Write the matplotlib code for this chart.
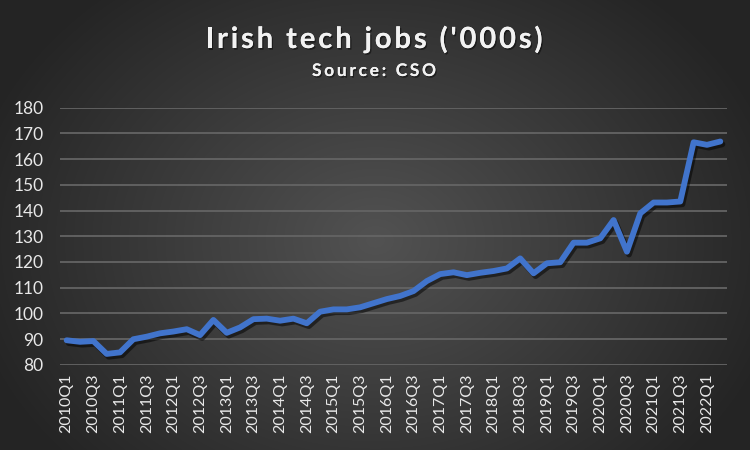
import numpy as np
import matplotlib
matplotlib.use("Agg")
import matplotlib.pyplot as plt
import matplotlib.patheffects as pe

quarters = [f"{y}Q{q}" for y in range(2010, 2023) for q in range(1, 5)][:50]
jobs = [89.6, 89.0, 89.3, 84.3, 84.9, 90.0, 91.0, 92.3, 93.0, 93.9,
        91.6, 97.5, 92.5, 94.6, 97.8, 98.0, 97.2, 98.0, 96.2, 100.7,
        101.6, 101.6, 102.4, 104.0, 105.6, 106.8, 108.7, 112.6, 115.3, 116.0,
        114.9, 115.8, 116.5, 117.5, 121.4, 115.6, 119.5, 119.9, 127.5, 127.5,
        129.2, 136.3, 124.0, 138.9, 143.1, 143.1, 143.5, 166.5, 165.5, 166.8]
yticks = list(range(80, 181, 10))
title = "Irish tech jobs ('000s)"
subtitle = "Source: CSO"

plt.rcParams['font.family'] = ['Lato', 'DejaVu Sans']
W, H = 750, 450
fig = plt.figure(figsize=(7.5, 4.5), dpi=100)

# radial gradient background
bg = fig.add_axes([0, 0, 1, 1], zorder=-10)
yy, xx = np.mgrid[0:H, 0:W]
r = np.sqrt(((xx - 375) / 420.0) ** 2 + ((yy - 240) / 330.0) ** 2)
r = np.clip(r, 0, 1)
inner = np.array([0x52, 0x52, 0x52]) / 255
outer = np.array([0x24, 0x24, 0x24]) / 255
img = inner[None, None, :] * (1 - r[..., None]) + outer[None, None, :] * r[..., None]
bg.imshow(img, aspect='auto', extent=[0, 1, 0, 1], origin='upper')
bg.axis('off')

ax = fig.add_axes([0.08, 0.1889, 0.8893, 0.5722])
ax.patch.set_alpha(0)
x = np.arange(len(jobs))
ax.plot(x, jobs, color='#4174CC', lw=4.2, solid_joinstyle='round', solid_capstyle='round',
        path_effects=[pe.SimpleLineShadow(offset=(1.5, -2), shadow_color='black', alpha=0.5),
                      pe.Normal()], zorder=3)
ax.set_xlim(-0.5, len(jobs) - 0.5)
ax.set_ylim(80, 180)
ax.set_yticks(yticks)
ax.set_yticklabels([str(t) for t in yticks], color='#e8e8e8', fontsize=12.5)
ax.set_xticks(x[::2])
ax.set_xticklabels(quarters[::2], rotation=90, color='#e8e8e8', fontsize=11.5)
ax.tick_params(axis='both', length=0)
ax.tick_params(axis='y', pad=12)
ax.tick_params(axis='x', pad=6)
ax.grid(axis='y', color='#646464', lw=1.3)
ax.set_axisbelow(True)
for s in ax.spines.values():
    s.set_visible(False)

renderer = fig.canvas.get_renderer()


def spaced_text(s, xc_px, yc_px, size, total_px):
    ws = []
    for ch in s:
        if ch == ' ':
            t = fig.text(0, 0, 'a a', fontsize=size, fontweight='bold')
            w_full = t.get_window_extent(renderer).width
            t.set_text('aa')
            w = w_full - t.get_window_extent(renderer).width
        else:
            t = fig.text(0, 0, ch, fontsize=size, fontweight='bold')
            w = t.get_window_extent(renderer).width
        t.remove()
        ws.append(w)
    sp = (total_px - sum(ws)) / (len(s) - 1)
    xpos = xc_px - total_px / 2
    for ch, w in zip(s, ws):
        if ch != ' ':
            fig.text(xpos / W, 1 - yc_px / H, ch, fontsize=size, fontweight='bold',
                     color='#f2f2f2', ha='left', va='center',
                     path_effects=[pe.withSimplePatchShadow(offset=(1, -1.2), shadow_rgbFace='black', alpha=0.45),
                                   pe.Normal()])
        xpos += w + sp


spaced_text(title, 374, 40, 21, 337)
spaced_text(subtitle, 374, 71, 12.5, 124)

fig.savefig('out.png', dpi=100)
